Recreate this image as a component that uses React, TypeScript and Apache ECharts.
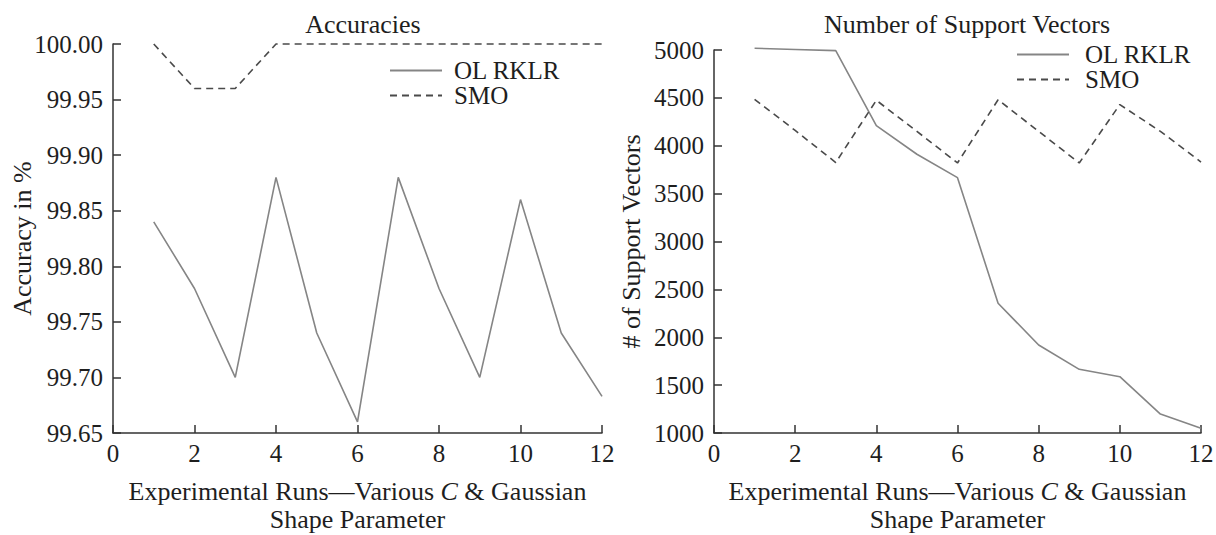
import React, { useEffect, useRef } from "react";
import * as echarts from "echarts";

const runs = [1, 2, 3, 4, 5, 6, 7, 8, 9, 10, 11, 12];
const accOL = [99.84, 99.78, 99.7, 99.88, 99.74, 99.66, 99.88, 99.78, 99.7, 99.86, 99.74, 99.683];
const accSMO = [100, 99.96, 99.96, 100, 100, 100, 100, 100, 100, 100, 100, 100];
const svOL = [5018, 5005, 4993, 4210, 3911, 3667, 2355, 1919, 1665, 1588, 1198, 1049];
const svSMO = [4485, 4160, 3825, 4475, 4150, 3820, 4480, 4150, 3820, 4430, 4150, 3830];
const xTicks = [0, 2, 4, 6, 8, 10, 12];

const FONT = "'Liberation Serif', 'Times New Roman', serif";
const TEXT = "#1e1e1e";
const AXIS_COLOR = "#333";
const OL_COLOR = "#858585";
const SMO_COLOR = "#4a4a4a";

const pairs = (ys: number[]) => runs.map((x, i) => [x, ys[i]]);

export default function App() {
  const ref = useRef<HTMLDivElement>(null);
  useEffect(() => {
    if (!ref.current) return;
    const chart = echarts.init(ref.current, null, { renderer: "svg" });
    const xAxisBase = (gridIndex: number) => ({
      type: "value",
      gridIndex,
      min: xTicks[0],
      max: xTicks[xTicks.length - 1],
      interval: 2,
      name: "Experimental Runs\u2014Various {i|C} & Gaussian\nShape Parameter",
      nameLocation: "middle",
      nameGap: 44,
      nameTextStyle: {
        fontFamily: FONT,
        fontSize: 26,
        color: TEXT,
        lineHeight: 28,
        rich: { i: { fontStyle: "italic", fontFamily: FONT, fontSize: 26, color: TEXT, lineHeight: 28 } },
      },
      axisLine: { show: true, lineStyle: { color: AXIS_COLOR, width: 1.5 } },
      axisTick: { show: true, inside: true, length: 8, lineStyle: { color: AXIS_COLOR, width: 1.5 } },
      axisLabel: { fontFamily: FONT, fontSize: 25, color: TEXT, margin: 8 },
      splitLine: { show: false },
    });
    const yAxisBase = {
      axisLine: { show: true, lineStyle: { color: AXIS_COLOR, width: 1.5 } },
      axisTick: { show: true, inside: true, length: 8, lineStyle: { color: AXIS_COLOR, width: 1.5 } },
      splitLine: { show: false },
      nameLocation: "middle",
      nameMoveOverlap: false,
      nameTextStyle: { fontFamily: FONT, fontSize: 26, color: TEXT },
    };
    const legendCommon = {
      orient: "vertical",
      itemWidth: 52,
      itemHeight: 12,
      itemGap: 0,
      itemStyle: { opacity: 0 },
      data: ["OL RKLR", "SMO"],
      selectedMode: false,
    };
    chart.setOption({
      animation: false,
      backgroundColor: "#fff",
      title: [
        {
          text: "Accuracies",
          left: 358,
          top: 6,
          textAlign: "center",
          textStyle: { fontFamily: FONT, fontSize: 26, fontWeight: "normal", color: TEXT },
        },
        {
          text: "Number of Support Vectors",
          left: 962,
          top: 6,
          textAlign: "center",
          textStyle: { fontFamily: FONT, fontSize: 26, fontWeight: "normal", color: TEXT },
        },
      ],
      legend: [
        {
          ...legendCommon,
          left: 384,
          top: 53,
          textStyle: { fontFamily: FONT, fontSize: 25, color: TEXT, padding: [0, 0, 0, 7] },
        },
        {
          ...legendCommon,
          left: 1011,
          top: 37,
          textStyle: { fontFamily: FONT, fontSize: 25, color: TEXT, padding: [0, 0, 0, 11] },
        },
      ],
      grid: [
        { left: 113, right: 614, top: 44, bottom: 102, containLabel: false, outerBoundsMode: "none" },
        { left: 714, right: 15, top: 50, bottom: 102, containLabel: false, outerBoundsMode: "none" },
      ],
      xAxis: [xAxisBase(0), xAxisBase(1)],
      yAxis: [
        {
          ...yAxisBase,
          type: "value",
          gridIndex: 0,
          min: 99.65,
          max: 100,
          interval: 0.05,
          name: "Accuracy in %",
          nameGap: 78,
          axisLabel: {
            fontFamily: FONT,
            fontSize: 25,
            color: TEXT,
            margin: 10,
            formatter: (v: number) => v.toFixed(2),
          },
        },
        {
          ...yAxisBase,
          type: "value",
          gridIndex: 1,
          min: 1000,
          max: 5000,
          interval: 500,
          name: "# of Support Vectors",
          nameGap: 70,
          axisLabel: {
            fontFamily: FONT,
            fontSize: 25,
            color: TEXT,
            margin: 10,
            formatter: (v: number) => String(v),
          },
        },
      ],
      series: [
        {
          name: "OL RKLR",
          type: "line",
          xAxisIndex: 0,
          yAxisIndex: 0,
          data: pairs(accOL),
          symbol: "none",
          clip: false,
          lineStyle: { color: OL_COLOR, width: 1.6 },
          itemStyle: { color: OL_COLOR },
        },
        {
          name: "SMO",
          type: "line",
          xAxisIndex: 0,
          yAxisIndex: 0,
          data: pairs(accSMO),
          symbol: "none",
          clip: false,
          lineStyle: { color: SMO_COLOR, width: 1.6, type: [7, 5] },
          itemStyle: { color: SMO_COLOR },
        },
        {
          name: "OL RKLR",
          type: "line",
          xAxisIndex: 1,
          yAxisIndex: 1,
          data: pairs(svOL),
          symbol: "none",
          clip: false,
          lineStyle: { color: OL_COLOR, width: 1.6 },
          itemStyle: { color: OL_COLOR },
        },
        {
          name: "SMO",
          type: "line",
          xAxisIndex: 1,
          yAxisIndex: 1,
          data: pairs(svSMO),
          symbol: "none",
          clip: false,
          lineStyle: { color: SMO_COLOR, width: 1.6, type: [7, 5] },
          itemStyle: { color: SMO_COLOR },
        },
      ],
    });
    return () => chart.dispose();
  }, []);
  return (
    <div
      ref={ref}
      style={{ width: 1216, height: 535, position: "absolute", left: 0, top: 0, background: "#fff" }}
    />
  );
}
